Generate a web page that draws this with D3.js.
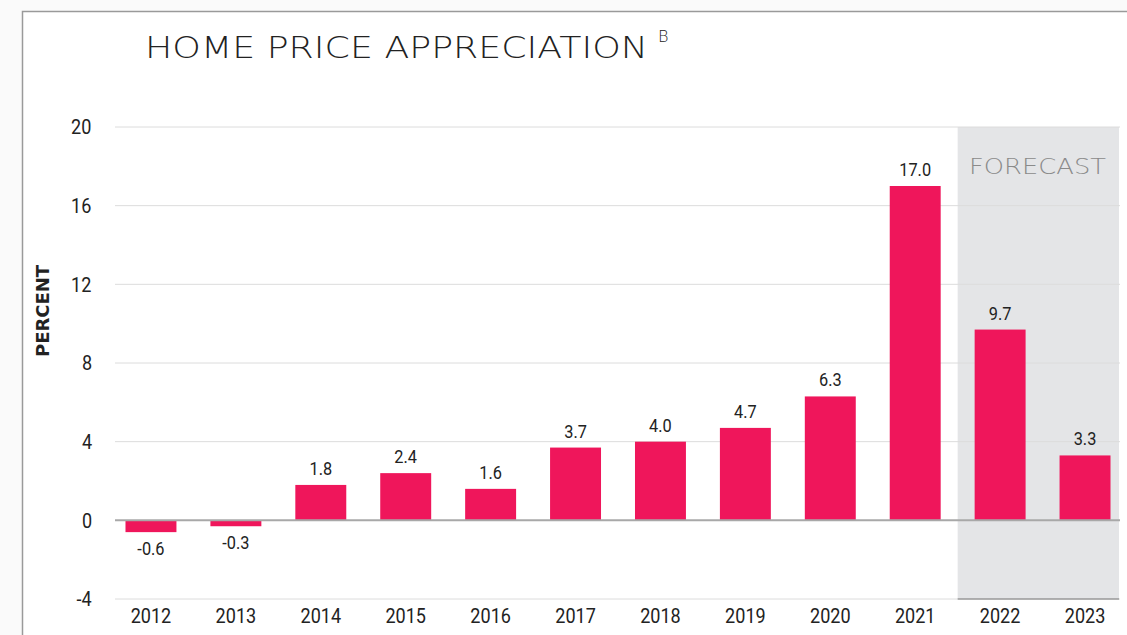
<!DOCTYPE html>
<html>
<head>
<meta charset="utf-8">
<script src="https://cdn.jsdelivr.net/npm/d3@7"></script>
<style>
  html, body { margin: 0; padding: 0; background: #fafafa; }
  #chart { width: 1127px; height: 635px; }
  .narrow { transform-box: fill-box; transform-origin: center; transform: scaleX(0.86); }
</style>
</head>
<body>
<div id="chart"></div>
<script>
const years = ['2012', '2013', '2014', '2015', '2016', '2017', '2018', '2019', '2020', '2021', '2022', '2023'];
const appreciation = [-0.6, -0.3, 1.8, 2.4, 1.6, 3.7, 4.0, 4.7, 6.3, 17.0, 9.7, 3.3];
const valueLabels = ['-0.6', '-0.3', '1.8', '2.4', '1.6', '3.7', '4.0', '4.7', '6.3', '17.0', '9.7', '3.3'];
const yTicks = [-4, 0, 4, 8, 12, 16, 20];
const forecastYears = ['2022', '2023'];

const W = 1127, H = 635;
const numFont = 'Roboto, "Liberation Sans", sans-serif';

const svg = d3.select('#chart')
  .append('svg')
  .attr('width', W)
  .attr('height', H);

// card
svg.append('rect')
  .attr('x', 22.5)
  .attr('y', 11.5)
  .attr('width', W)
  .attr('height', H)
  .attr('fill', '#fff')
  .attr('stroke', '#9a9a9a')
  .attr('stroke-width', 1.5);

const x = d3.scaleBand()
  .domain(years)
  .range([117, 1119])
  .paddingInner(0.4)
  .paddingOuter(0.1);

const y = d3.scaleLinear()
  .domain([-4, 20])
  .range([599, 127]);

const gridLeft = 115, gridRight = 1120;

// forecast shading
const fx0 = x(forecastYears[0]) - x.step() * x.paddingInner() / 2;
svg.append('rect')
  .attr('x', fx0)
  .attr('y', y(20))
  .attr('width', gridRight - 1 - fx0)
  .attr('height', y(-4) - y(20))
  .attr('fill', '#e4e5e7');

svg.append('text')
  .attr('x', 969)
  .attr('y', 174)
  .attr('textLength', 137)
  .attr('lengthAdjust', 'spacingAndGlyphs')
  .style('font-family', '"DejaVu Sans", sans-serif')
  .style('font-weight', 200)
  .style('font-size', '21px')
  .style('fill', '#8a8a8a')
  .text('FORECAST');

// grid
svg.append('g')
  .selectAll('line')
  .data(yTicks.filter(d => d !== 0))
  .enter()
  .append('line')
  .attr('x1', gridLeft)
  .attr('x2', gridRight)
  .attr('y1', d => y(d))
  .attr('y2', d => y(d))
  .attr('stroke', '#dcdcdc')
  .attr('stroke-width', 1);

// darker base line under forecast
svg.append('line')
  .attr('x1', fx0)
  .attr('x2', gridRight - 1)
  .attr('y1', y(-4))
  .attr('y2', y(-4))
  .attr('stroke', '#777')
  .attr('stroke-width', 1.2);

// y axis labels
const yAxis = svg.append('g')
  .attr('transform', 'translate(93,0)')
  .call(d3.axisLeft(y).tickValues(yTicks).tickSize(0).tickPadding(0).tickFormat(d => String(d)));
yAxis.select('.domain').remove();
yAxis.selectAll('text')
  .attr('class', 'narrow')
  .style('font-family', numFont)
  .style('font-size', '21px')
  .style('fill', '#222');

// x axis labels
const xAxis = svg.append('g')
  .attr('transform', `translate(0,${y(-4)})`)
  .call(d3.axisBottom(x).tickSize(0).tickPadding(9));
xAxis.select('.domain').remove();
xAxis.selectAll('text')
  .attr('class', 'narrow')
  .style('font-family', numFont)
  .style('font-size', '21px')
  .style('fill', '#222');

// bars
svg.selectAll('.bar')
  .data(appreciation)
  .enter()
  .append('rect')
  .attr('class', 'bar')
  .attr('x', (_, i) => x(years[i]))
  .attr('y', d => y(Math.max(0, d)))
  .attr('width', x.bandwidth())
  .attr('height', d => Math.abs(y(d) - y(0)))
  .attr('fill', '#ef165b');

// zero line
svg.append('line')
  .attr('x1', gridLeft)
  .attr('x2', gridRight)
  .attr('y1', y(0))
  .attr('y2', y(0))
  .attr('stroke', '#a8a8a8')
  .attr('stroke-width', 2);

// value labels
svg.selectAll('.label')
  .data(appreciation)
  .enter()
  .append('text')
  .attr('class', 'label narrow')
  .text((_, i) => valueLabels[i])
  .attr('x', (_, i) => x(years[i]) + x.bandwidth() / 2)
  .attr('y', d => d >= 0 ? y(d) - 10 : y(d) + 23)
  .attr('text-anchor', 'middle')
  .style('font-family', numFont)
  .style('font-size', '19px')
  .style('fill', '#222');

// axis title
svg.append('text')
  .attr('transform', 'translate(49,357) rotate(-90)')
  .attr('textLength', 92)
  .attr('lengthAdjust', 'spacingAndGlyphs')
  .style('font-family', '"DejaVu Sans", sans-serif')
  .style('font-weight', 'bold')
  .style('font-size', '17px')
  .style('fill', '#222')
  .text('PERCENT');

// title
svg.append('text')
  .attr('x', 145)
  .attr('y', 58)
  .attr('textLength', 503)
  .attr('lengthAdjust', 'spacingAndGlyphs')
  .style('font-family', '"DejaVu Sans", sans-serif')
  .style('font-weight', 200)
  .style('font-size', '31px')
  .style('fill', '#222')
  .text('HOME PRICE APPRECIATION');

svg.append('text')
  .attr('x', 658)
  .attr('y', 42)
  .style('font-family', '"DejaVu Sans", sans-serif')
  .style('font-weight', 200)
  .style('font-size', '16px')
  .style('fill', '#222')
  .text('B');
</script>
</body>
</html>
